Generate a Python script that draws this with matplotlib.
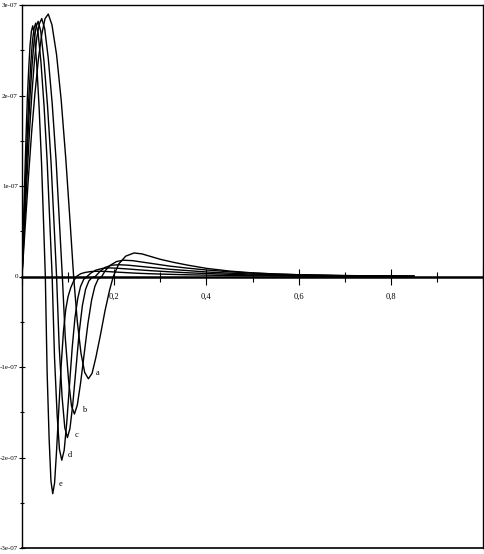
import matplotlib
matplotlib.use("Agg")
import matplotlib.pyplot as plt
import matplotlib.ticker as mticker
import numpy as np

# values in units of 1e-7
SCALE = 1e-7

x_a = [0, 0.007, 0.014, 0.021, 0.028, 0.036, 0.043, 0.050, 0.057,
       0.065, 0.075, 0.085, 0.095, 0.105, 0.112, 0.120, 0.128, 0.136, 0.144,
       0.152, 0.160, 0.170, 0.180, 0.190, 0.198,
       0.210, 0.225, 0.243, 0.260, 0.280, 0.300, 0.330, 0.360, 0.400,
       0.450, 0.500, 0.550, 0.600, 0.700, 0.800, 0.850]
y_a = [0, 0.56, 1.10, 1.60, 2.02, 2.42, 2.68, 2.85, 2.90,
       2.78, 2.45, 1.95, 1.30, 0.55, 0.0, -0.50, -0.85, -1.06, -1.13,
       -1.07, -0.90, -0.65, -0.38, -0.15, 0.0,
       0.14, 0.225, 0.26, 0.25, 0.22, 0.19, 0.155, 0.125, 0.09,
       0.06, 0.04, 0.028, 0.02, 0.01, 0.005, 0.004]

x_b = [0, 0.0054, 0.0107, 0.016, 0.0214, 0.0268, 0.0321, 0.0375, 0.0428,
       0.0492, 0.057, 0.0655, 0.074, 0.0818, 0.0875, 0.0938, 0.1009, 0.1073, 0.1137,
       0.120, 0.127, 0.135, 0.143, 0.151, 0.158, 0.165, 0.173,
       0.180, 0.190, 0.205, 0.220, 0.240, 0.260, 0.280, 0.320, 0.360, 0.400,
       0.450, 0.500, 0.550, 0.600, 0.700, 0.850]
y_b = [0, 0.556, 1.083, 1.58, 2.02, 2.37, 2.64, 2.79, 2.85,
       2.74, 2.41, 1.91, 1.28, 0.54, 0.0, -0.67, -1.14, -1.43, -1.52,
       -1.42, -1.18, -0.85, -0.52, -0.26, -0.11, -0.03, 0.0,
       0.06, 0.12, 0.165, 0.18, 0.175, 0.16, 0.145, 0.115, 0.092, 0.072,
       0.052, 0.038, 0.027, 0.019, 0.010, 0.004]

x_c = [0, 0.0044, 0.0088, 0.0131, 0.0175, 0.0219, 0.0263, 0.0306, 0.035,
       0.0407, 0.0477, 0.0553, 0.0629, 0.0699, 0.075, 0.0807, 0.0871, 0.0928, 0.0985,
       0.104, 0.110, 0.117, 0.124, 0.131, 0.138, 0.145, 0.152, 0.159,
       0.168, 0.180, 0.195, 0.210, 0.230, 0.250, 0.280, 0.320, 0.360, 0.400,
       0.450, 0.500, 0.550, 0.600, 0.700, 0.850]
y_c = [0, 0.55, 1.07, 1.565, 2.0, 2.34, 2.61, 2.76, 2.82,
       2.71, 2.38, 1.89, 1.27, 0.54, 0.0, -0.78, -1.34, -1.67, -1.78,
       -1.68, -1.42, -1.02, -0.62, -0.32, -0.14, -0.05, -0.01, 0.0,
       0.05, 0.10, 0.125, 0.13, 0.125, 0.115, 0.10, 0.08, 0.065, 0.05,
       0.037, 0.027, 0.019, 0.014, 0.007, 0.003]

x_d = [0, 0.0037, 0.0075, 0.0112, 0.0149, 0.0186, 0.0224, 0.0261, 0.0298,
       0.0349, 0.0411, 0.0479, 0.0547, 0.0609, 0.0654, 0.0705, 0.0761, 0.0812, 0.0863,
       0.0915, 0.097, 0.103, 0.109, 0.115, 0.121, 0.127, 0.134, 0.141,
       0.150, 0.160, 0.175, 0.190, 0.210, 0.230, 0.250, 0.280, 0.320, 0.360, 0.400,
       0.450, 0.500, 0.550, 0.600, 0.700, 0.850]
y_d = [0, 0.546, 1.064, 1.554, 1.99, 2.32, 2.59, 2.74, 2.80,
       2.69, 2.37, 1.88, 1.26, 0.53, 0.0, -0.89, -1.52, -1.91, -2.03,
       -1.92, -1.62, -1.20, -0.78, -0.45, -0.24, -0.11, -0.03, 0.0,
       0.04, 0.07, 0.09, 0.095, 0.09, 0.083, 0.075, 0.064, 0.052, 0.041, 0.033,
       0.024, 0.017, 0.012, 0.009, 0.004, 0.002]

x_e = [0, 0.0029, 0.0058, 0.0087, 0.0116, 0.0146, 0.0175, 0.0204, 0.0233,
       0.0272, 0.032, 0.0372, 0.0424, 0.0472, 0.0506, 0.0545, 0.0589, 0.0628, 0.0667,
       0.0707, 0.0747, 0.080, 0.085, 0.090, 0.095, 0.100, 0.106, 0.112, 0.118,
       0.127, 0.137, 0.150, 0.165, 0.180, 0.200, 0.225, 0.250, 0.280, 0.320,
       0.360, 0.400, 0.450, 0.500, 0.600, 0.700, 0.850]
y_e = [0, 0.54, 1.05, 1.54, 1.97, 2.30, 2.56, 2.71, 2.77,
       2.66, 2.34, 1.86, 1.25, 0.53, 0.0, -1.06, -1.80, -2.26, -2.40,
       -2.28, -1.95, -1.45, -0.98, -0.60, -0.36, -0.22, -0.12, -0.05, 0.0,
       0.03, 0.045, 0.055, 0.058, 0.056, 0.05, 0.043, 0.036, 0.03, 0.024,
       0.019, 0.015, 0.011, 0.008, 0.004, 0.002, 0.001]

curves = {"a": (x_a, y_a), "b": (x_b, y_b), "c": (x_c, y_c),
          "d": (x_d, y_d), "e": (x_e, y_e)}
# label offsets from each trough, in pixels
label_offsets = {"a": (7, 6), "b": (8, 4), "c": (7, 3), "d": (6, 5), "e": (6, 10)}

plt.rcParams["font.family"] = ["Liberation Serif", "DejaVu Serif"]

fig = plt.figure(figsize=(4.85, 5.54), dpi=100)
ax = fig.add_axes([22 / 485, 6 / 554, 461 / 485, 543 / 554])

for name, (xs, ys) in curves.items():
    ys = np.array(ys) * SCALE
    ax.plot(xs, ys, color="black", lw=1.0)
    i = int(np.argmin(ys))
    ax.annotate(name, xy=(xs[i], ys[i]), xytext=label_offsets[name],
                textcoords="offset pixels", fontsize=6, ha="left", va="center")

ax.set_xlim(0, 1.0)
ax.set_ylim(-3e-7, 3e-7)

# x axis sits on y = 0, keep a plain frame line at the bottom
ax.spines["bottom"].set_position(("data", 0))
ax.spines["bottom"].set_linewidth(1.8)
ax.plot([0, 1], [0, 0], transform=ax.transAxes, color="black", lw=1.2, clip_on=False)
for s in ("left", "top", "right"):
    ax.spines[s].set_linewidth(1.0)

ax.xaxis.set_major_locator(mticker.MultipleLocator(0.2))
ax.xaxis.set_minor_locator(mticker.MultipleLocator(0.1))
ax.yaxis.set_major_locator(mticker.MultipleLocator(1e-7))
ax.yaxis.set_minor_locator(mticker.MultipleLocator(0.5e-7))


def xfmt(v, pos):
    if abs(v) < 1e-9 or v > 0.95:
        return ""
    return f"{v:.1f}".replace(".", ",")


def yfmt(v, pos):
    if abs(v) < 1e-12:
        return "0"
    return f"{v:.0e}"


ax.xaxis.set_major_formatter(mticker.FuncFormatter(xfmt))
ax.yaxis.set_major_formatter(mticker.FuncFormatter(yfmt))
ax.tick_params(axis="x", which="major", direction="inout", length=12, width=0.8,
               labelsize=6, pad=6)
ax.tick_params(axis="x", which="minor", direction="inout", length=7, width=0.8)
ax.tick_params(axis="y", which="major", direction="inout", length=4, width=0.8,
               labelsize=5, pad=1)
ax.tick_params(axis="y", which="minor", direction="inout", length=3, width=0.8)

fig.savefig("out.png", dpi=100)
